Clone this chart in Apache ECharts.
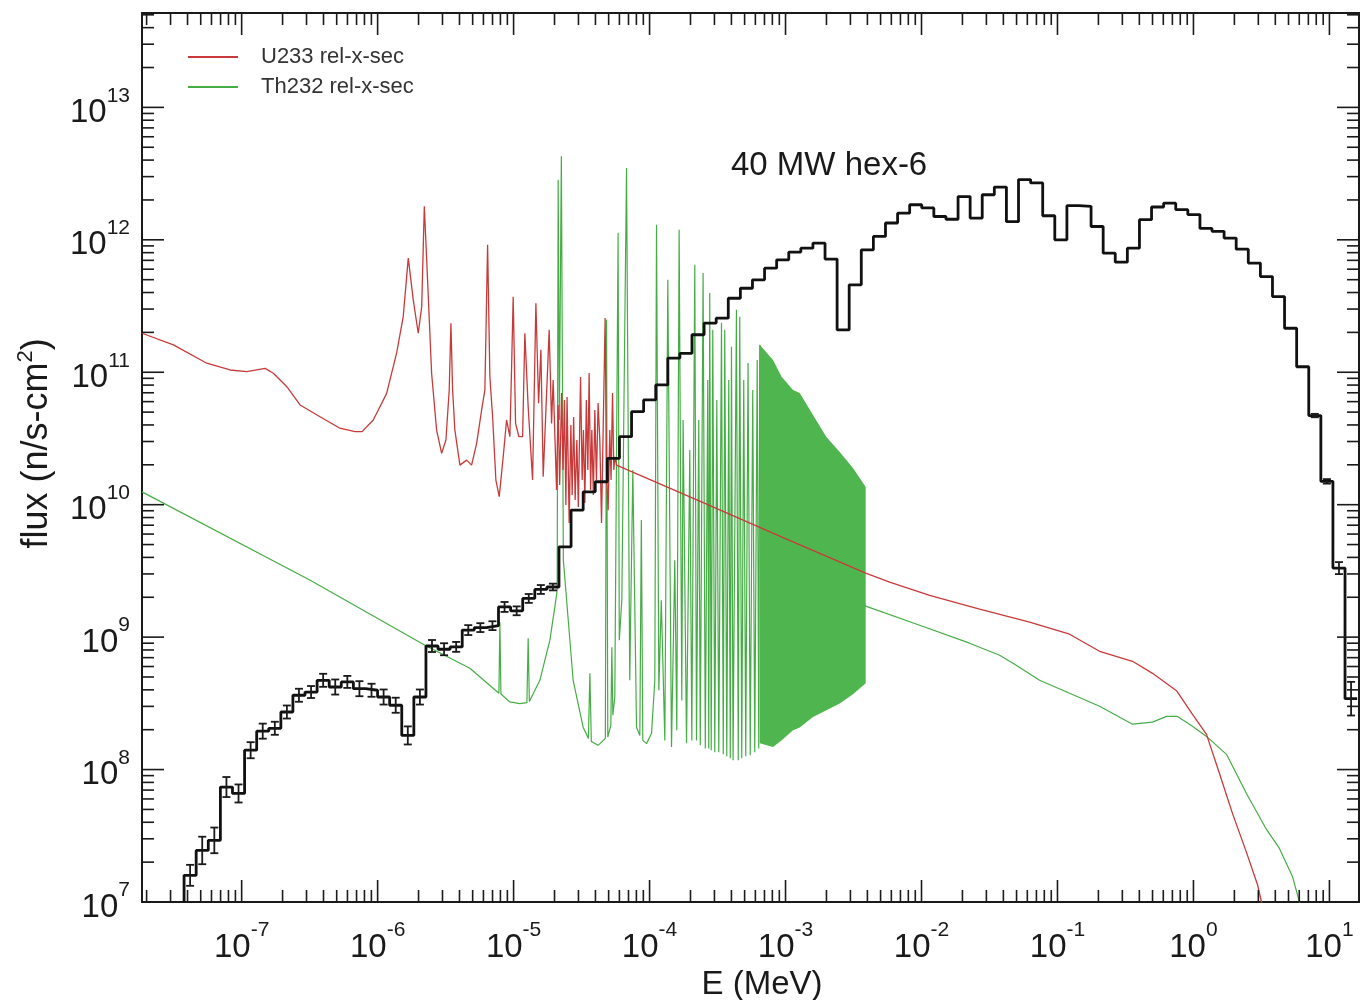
<!DOCTYPE html>
<html>
<head>
<meta charset="utf-8">
<title>40 MW hex-6</title>
<script src="https://cdn.jsdelivr.net/npm/echarts@6/dist/echarts.min.js"></script>
<style>
  html, body { margin: 0; padding: 0; background: #fff; }
  #chart { width: 1365px; height: 1000px; }
</style>
</head>
<body>
<div id="chart"></div>
<script>
// axis range: E (MeV) and flux (n/s-cm2)
const xMin = 1.85e-8, xMax = 16.5
const yMin = 1e7, yMax = 5.16e13

// flux histogram: bin edges (MeV), flux per bin, relative error bar (0 = none)
const binEdges = [
  3.772e-8, 4.630e-8, 5.683e-8, 6.976e-8, 8.563e-8, 1.051e-7, 1.290e-7, 1.583e-7, 1.943e-7, 2.382e-7,
  2.924e-7, 3.589e-7, 4.404e-7, 5.405e-7, 6.632e-7, 8.143e-7, 9.991e-7, 1.226e-6, 1.505e-6, 1.847e-6,
  2.267e-6, 2.782e-6, 3.413e-6, 4.190e-6, 5.141e-6, 6.310e-6, 7.745e-6, 9.504e-6, 1.167e-5, 1.432e-5,
  1.757e-5, 2.157e-5, 2.647e-5, 3.249e-5, 3.987e-5, 4.893e-5, 6.007e-5, 7.372e-5, 9.044e-5, 1.110e-4,
  1.362e-4, 1.672e-4, 2.051e-4, 2.518e-4, 3.090e-4, 3.792e-4, 4.654e-4, 5.712e-4, 7.010e-4, 8.603e-4,
  1.056e-3, 1.296e-3, 1.590e-3, 1.952e-3, 2.395e-3, 2.938e-3, 3.607e-3, 4.426e-3, 5.433e-3, 6.668e-3,
  8.182e-3, 1.004e-2, 1.232e-2, 1.513e-2, 1.857e-2, 2.279e-2, 2.796e-2, 3.432e-2, 4.212e-2, 5.169e-2,
  6.344e-2, 7.786e-2, 9.554e-2, 0.1173, 0.1439, 0.1766, 0.2168, 0.2660, 0.3265, 0.4007,
  0.4918, 0.6035, 0.7408, 0.9090, 1.116, 1.369, 1.680, 2.062, 2.531, 3.106,
  3.812, 4.677, 5.741, 7.046, 8.648, 10.61, 13.02, 15.99
]
const flux = [
  1.59e7, 2.45e7, 2.92e7, 7.38e7, 6.6e7, 1.40e8, 1.95e8, 2.05e8, 2.72e8, 3.64e8,
  3.85e8, 4.72e8, 4.2e8, 4.59e8, 4.08e8, 3.97e8, 3.53e8, 3.06e8, 1.81e8, 3.53e8,
  8.57e8, 8.1e8, 8.44e8, 1.13e9, 1.18e9, 1.22e9, 1.69e9, 1.58e9, 1.96e9, 2.29e9,
  2.39e9, 4.81e9, 9.1e9, 1.25e10, 1.49e10, 2.24e10, 3.26e10, 5.04e10, 6.18e10, 8.02e10,
  1.28e11, 1.39e11, 1.92e11, 2.35e11, 2.56e11, 3.62e11, 4.31e11, 4.99e11, 6.11e11, 7.06e11,
  8.08e11, 8.65e11, 9.44e11, 7.15e11, 2.09e11, 4.57e11, 8.4e11, 1.06e12, 1.34e12, 1.59e12,
  1.84e12, 1.74e12, 1.50e12, 1.43e12, 2.12e12, 1.46e12, 2.19e12, 2.50e12, 1.37e12, 2.85e12,
  2.69e12, 1.52e12, 1.0e12, 1.81e12, 1.79e12, 1.26e12, 7.93e11, 6.78e11, 8.65e11, 1.42e12,
  1.77e12, 1.89e12, 1.69e12, 1.55e12, 1.22e12, 1.16e12, 1.03e12, 8.5e11, 6.67e11, 5.28e11,
  3.73e11, 2.15e11, 1.10e11, 4.71e10, 1.50e10, 3.32e9, 3.43e8
]
const fluxErr = [
  0.2, 0.27, 0.25, 0.19, 0.17, 0.15, 0.14, 0.12, 0.12, 0.12,
  0.11, 0.12, 0.14, 0.11, 0.14, 0.12, 0.14, 0.14, 0.17, 0.14,
  0.11, 0.11, 0.09, 0.09, 0.08, 0.08, 0.09, 0.08, 0.08, 0.08,
  0.06, 0, 0, 0, 0, 0, 0, 0, 0, 0,
  0, 0, 0, 0, 0, 0, 0, 0, 0, 0,
  0, 0, 0, 0, 0, 0, 0, 0, 0, 0,
  0, 0, 0, 0, 0, 0, 0, 0, 0, 0,
  0, 0, 0, 0, 0, 0, 0, 0, 0, 0,
  0, 0, 0, 0, 0, 0, 0, 0, 0, 0,
  0, 0, 0, 0.03, 0.04, 0.11, 0.34
]

// U233 relative cross section
const u233E = [
  1.85e-8, 3.15e-8, 5.54e-8, 8.22e-8, 1.09e-7, 1.49e-7, 1.71e-7, 2.15e-7, 2.69e-7, 3.77e-7,
  5.28e-7, 6.82e-7, 7.68e-7, 9.29e-7, 1.165e-6, 1.38e-6, 1.543e-6, 1.68e-6, 1.828e-6, 1.99e-6,
  2.11e-6, 2.205e-6, 2.29e-6, 2.495e-6, 2.716e-6, 2.957e-6, 3.18e-6, 3.362e-6, 3.46e-6, 3.56e-6,
  3.70e-6, 4.03e-6, 4.51e-6, 4.91e-6, 5.35e-6, 5.82e-6, 6.15e-6, 6.44e-6, 6.69e-6, 7.01e-6,
  7.41e-6, 7.84e-6, 8.39e-6, 8.88e-6, 9.39e-6, 9.67e-6, 9.93e-6, 1.034e-5, 1.094e-5, 1.165e-5,
  1.21e-5, 1.28e-5, 1.379e-5, 1.459e-5, 1.527e-5, 1.588e-5, 1.651e-5, 1.827e-5, 1.902e-5, 1.954e-5,
  2.070e-5, 2.127e-5, 2.182e-5, 2.254e-5, 2.311e-5, 2.367e-5, 2.424e-5, 2.473e-5, 2.563e-5, 2.638e-5,
  2.696e-5, 2.765e-5, 2.836e-5, 2.919e-5, 2.994e-5, 3.108e-5, 3.193e-5, 3.264e-5, 3.343e-5, 3.428e-5,
  3.516e-5, 3.594e-5, 3.686e-5, 3.762e-5, 3.859e-5, 3.958e-5, 4.066e-5, 4.184e-5, 4.307e-5, 4.433e-5,
  4.571e-5, 4.713e-5, 4.834e-5, 4.958e-5, 5.102e-5, 5.208e-5, 5.341e-5, 5.459e-5, 5.553e-5, 5.715e-5,
  2.34e-4, 9.33e-4,
  3.886e-3, 5.83e-3, 1.148e-2, 2.675e-2, 6.24e-2, 0.1227, 0.204, 0.3565, 0.50, 0.7506,
  0.984, 1.247, 1.554, 1.936, 2.454, 2.956, 3.164, 3.32
]
const u233X = [
  1.97e11, 1.61e11, 1.17e11, 1.04e11, 1.01e11, 1.07e11, 9.82e10, 7.78e10, 5.66e10, 4.61e10,
  3.78e10, 3.56e10, 3.56e10, 4.36e10, 6.93e10, 1.40e11, 2.63e11, 7.28e11, 3.52e11, 1.97e11,
  3.13e11, 1.79e12, 7.48e11, 9.82e10, 3.66e10, 2.44e10, 3.08e10, 7.35e10, 2.34e11, 7.35e10,
  3.66e10, 1.99e10, 2.17e10, 1.99e10, 2.90e10, 5.19e10, 7.35e10, 9.16e11, 9.27e10, 4.61e10,
  1.535e10, 1.15e10, 2.30e10, 4.36e10, 3.26e10, 1.10e11, 3.72e11, 4.11e10, 3.26e10, 3.26e10,
  1.97e11, 5.5e10, 1.535e10, 3.32e11, 5.83e10, 1.476e11, 1.626e10, 2.09e11, 4.11e10, 8.75e10,
  1.290e10, 5.66e10, 1.407e10, 6.98e10, 1.826e10, 6.17e10, 9.93e9, 6.51e10, 7.26e9, 4.0e10,
  1.182e10, 4.59e10, 1.083e10, 3.08e10, 9.59e9, 9.22e10, 1.535e10, 3.66e10, 1.028e10, 6.17e10,
  1.826e10, 9.88e10, 1.29e10, 3.66e10, 1.182e10, 5.19e10, 1.535e10, 5.86e10, 3.08e10, 7.26e9,
  4.36e10, 2.57e11, 1.535e10, 9.1e9, 3.66e10, 1.535e10, 6.98e10, 1.826e10, 2.30e10, 1.992e10,
  1.064e10, 5.72e9,
  3.04e9, 2.60e9, 2.07e9, 1.626e9, 1.297e9, 1.052e9, 7.82e8, 6.57e8, 5.33e8, 3.94e8,
  2.61e8, 1.845e8, 9.35e7, 4.67e7, 2.37e7, 1.356e7, 1.0e7, 7.9e6
]

// Th232 relative cross section (resolved part)
const th232E = [
  1.85e-8, 3.194e-7, 2.23e-6, 4.77e-6, 7.80e-6, 7.93e-6, 8.07e-6, 9.39e-6, 1.112e-5, 1.253e-5,
  1.28e-5, 1.306e-5, 1.56e-5, 1.849e-5, 2.011e-5, 2.092e-5, 2.127e-5, 2.171e-5, 2.245e-5, 2.323e-5,
  2.742e-5, 3.246e-5, 3.55e-5, 3.64e-5, 3.73e-5, 4.184e-5, 4.73e-5, 4.826e-5, 4.93e-5, 5.19e-5,
  5.28e-5, 5.37e-5, 5.55e-5, 5.87e-5, 5.99e-5, 6.25e-5, 6.77e-5, 7.15e-5, 7.53e-5, 8.02e-5,
  8.48e-5, 8.70e-5, 8.92e-5, 9.5e-5,
  1.034e-4, 1.093e-4, 1.125e-4, 1.17e-4, 1.22e-4, 1.295e-4, 1.362e-4, 1.45e-4, 1.533e-4, 1.586e-4,
  1.65e-4, 1.726e-4, 1.765e-4, 1.87e-4, 1.977e-4, 2.045e-4, 2.151e-4, 2.214e-4, 2.30e-4, 2.36e-4,
  2.475e-4, 2.57e-4, 2.68e-4, 2.725e-4, 2.77e-4, 2.84e-4, 2.917e-4, 3.017e-4, 3.122e-4, 3.23e-4,
  3.38e-4, 3.484e-4, 3.573e-4, 3.697e-4, 3.824e-4, 3.922e-4, 4.003e-4, 4.112e-4, 4.355e-4, 4.49e-4,
  4.605e-4, 4.764e-4, 4.928e-4, 5.098e-4, 5.30e-4, 5.50e-4, 5.74e-4, 5.935e-4, 6.19e-4, 6.353e-4,
  6.46e-4,
  3.886e-3, 9.69e-3, 2.259e-2, 3.753e-2, 4.837e-2, 7.385e-2, 0.1227, 0.204, 0.3565, 0.50,
  0.6336, 0.7633, 0.984, 1.247, 1.75, 2.454, 3.443, 4.29, 5.346, 6.02, 6.33
]
const th232X = [
  1.25e10, 2.69e9, 8.69e8, 5.82e8, 3.77e8, 1.297e9, 3.72e8, 3.24e8, 3.15e8, 3.2e8,
  9.82e8, 3.26e8, 4.72e8, 9.48e8, 1.69e9, 2.26e9, 2.84e12, 4.36e10, 4.27e12, 3.81e9,
  4.72e8, 2.09e8, 1.72e8, 5.33e8, 1.63e8, 1.524e8, 1.72e8, 2.49e11, 1.76e8, 2.16e8,
  8.4e8, 2.57e8, 3.53e8, 1.13e12, 9.48e8, 1.90e9, 3.48e12, 4.72e8, 1.826e10, 2.09e8,
  1.81e8, 7.65e9, 1.66e8, 1.57e8,
  1.88e8, 4.72e8, 1.30e12, 3.97e8, 1.90e9, 1.66e8, 4.99e11, 1.48e8, 3.81e9, 1.98e8,
  1.19e12, 3.33e8, 4.36e10, 1.58e8, 2.59e10, 1.66e8, 6.47e11, 1.66e8, 4.36e10, 1.524e8,
  5.62e11, 1.445e8, 8.75e10, 1.445e8, 3.97e11, 1.397e8, 2.09e11, 1.349e8, 6.18e10, 1.349e8,
  2.36e11, 1.303e8, 2.09e11, 1.259e8, 8.75e10, 1.216e8, 1.56e11, 1.175e8, 2.96e11, 1.175e8,
  2.63e11, 1.216e8, 8.75e10, 1.259e8, 1.175e11, 1.28e8, 7.35e10, 1.349e8, 1.24e11, 1.445e8,
  1.61e11,
  1.713e9, 1.23e9, 9.0e8, 7.3e8, 6.24e8, 4.72e8, 3.77e8, 3.01e8, 2.2e8, 2.28e8,
  2.52e8, 2.52e8, 2.12e8, 1.78e8, 1.303e8, 6.6e7, 3.53e7, 2.54e7, 1.56e7, 1.0e7, 7.9e6
]

// Th232 unresolved resonance forest: upper and lower envelope
const th232BandE = [6.46e-4, 8.09e-4, 9.33e-4, 1.135e-3, 1.272e-3, 1.592e-3, 1.998e-3, 2.503e-3, 3.134e-3, 3.886e-3]
const th232BandHi = [1.61e11, 1.24e11, 9.27e10, 7.35e10, 6.98e10, 4.75e10, 3.24e10, 2.5e10, 1.89e10, 1.36e10]
const th232BandLo = [1.58e8, 1.48e8, 1.66e8, 1.98e8, 2.08e8, 2.49e8, 2.8e8, 3.16e8, 3.7e8, 4.49e8]

const fontFamily = '"Liberation Sans", Arial, Helvetica, sans-serif'
const ink = '#1a1a1a'

function powLabel(v) {
  const e = Math.log10(v)
  const n = Math.round(e)
  if (Math.abs(e - n) > 1e-6) return ''
  return '{b|10}{s|' + n + '}'
}
const powRich = {
  b: { fontSize: 33, lineHeight: 44, verticalAlign: 'bottom', color: ink, fontFamily },
  s: { fontSize: 21, lineHeight: 16, verticalAlign: 'top', color: ink, fontFamily }
}

// histogram as step line
const histData = [[binEdges[0], yMin]]
flux.forEach((v, i) => histData.push([binEdges[i], v]))
histData.push([binEdges[flux.length], flux[flux.length - 1]])

const errData = []
flux.forEach((v, i) => {
  if (fluxErr[i] > 0) {
    errData.push([Math.sqrt(binEdges[i] * binEdges[i + 1]), v / (1 + fluxErr[i]), v * (1 + fluxErr[i])])
  }
})

// frame ticks on all four sides (log minor ticks at 2..9)
const tickData = []
for (let n = -8; n <= 1; n++) {
  for (let m = 1; m <= 9; m++) {
    const v = m * Math.pow(10, n)
    if (v > xMin && v < xMax) tickData.push([v, yMin, m === 1 ? 1 : 0])
  }
}
for (let n = 7; n <= 13; n++) {
  for (let m = 1; m <= 9; m++) {
    const v = m * Math.pow(10, n)
    if (v > yMin && v < yMax) tickData.push([xMin, v, m === 1 ? 3 : 2])
  }
}

function renderTick(params, api) {
  const kind = api.value(2)
  const len = kind % 2 ? 22 : 12
  const style = { stroke: ink, lineWidth: 1.6 }
  if (kind < 2) {
    const b = api.coord([api.value(0), yMin])
    const t = api.coord([api.value(0), yMax])
    return {
      type: 'group',
      children: [
        { type: 'line', shape: { x1: b[0], y1: b[1], x2: b[0], y2: b[1] - len }, style },
        { type: 'line', shape: { x1: t[0], y1: t[1], x2: t[0], y2: t[1] + len }, style }
      ]
    }
  }
  const l = api.coord([xMin, api.value(1)])
  const r = api.coord([xMax, api.value(1)])
  return {
    type: 'group',
    children: [
      { type: 'line', shape: { x1: l[0], y1: l[1], x2: l[0] + len, y2: l[1] }, style },
      { type: 'line', shape: { x1: r[0], y1: r[1], x2: r[0] - len, y2: r[1] }, style }
    ]
  }
}

function renderErr(params, api) {
  const lo = api.coord([api.value(0), api.value(1)])
  const hi = api.coord([api.value(0), api.value(2)])
  const style = { stroke: ink, lineWidth: 1.8 }
  const w = 4
  return {
    type: 'group',
    children: [
      { type: 'line', shape: { x1: lo[0], y1: lo[1], x2: hi[0], y2: hi[1] }, style },
      { type: 'line', shape: { x1: lo[0] - w, y1: lo[1], x2: lo[0] + w, y2: lo[1] }, style },
      { type: 'line', shape: { x1: hi[0] - w, y1: hi[1], x2: hi[0] + w, y2: hi[1] }, style }
    ]
  }
}

function renderBand(params, api) {
  if (params.dataIndex !== 0) return
  const pts = []
  th232BandE.forEach((e, i) => pts.push(api.coord([e, th232BandHi[i]])))
  for (let i = th232BandE.length - 1; i >= 0; i--) pts.push(api.coord([th232BandE[i], th232BandLo[i]]))
  return { type: 'polygon', shape: { points: pts }, style: { fill: '#4fb64f' } }
}

const chart = echarts.init(document.getElementById('chart'))
chart.setOption({
  animation: false,
  backgroundColor: '#fff',
  textStyle: { fontFamily },
  title: {
    text: '40 MW hex-6',
    left: 726,
    top: 144,
    textStyle: { fontSize: 33, fontWeight: 'normal', color: ink, fontFamily }
  },
  legend: {
    data: ['U233 rel-x-sec', 'Th232 rel-x-sec'],
    orient: 'vertical',
    left: 183,
    top: 41,
    itemWidth: 50,
    itemHeight: 2,
    itemGap: 8,
    icon: 'rect',
    selectedMode: false,
    textStyle: { fontSize: 22, color: '#333', padding: [0, 0, 0, 18], fontFamily }
  },
  grid: {
    left: 142,
    right: 6,
    top: 13,
    bottom: 98,
    show: true,
    borderColor: ink,
    borderWidth: 2,
    containLabel: false,
    outerBoundsMode: 'none'
  },
  xAxis: {
    type: 'log',
    logBase: 10,
    min: xMin,
    max: xMax,
    splitNumber: 10,
    name: 'E (MeV)',
    nameLocation: 'middle',
    nameGap: 56,
    nameTextStyle: { fontSize: 33, color: ink, padding: [0, 0, 0, 23], fontFamily },
    axisLine: { show: false },
    axisTick: { show: false },
    splitLine: { show: false },
    axisLabel: { margin: 18, formatter: powLabel, rich: powRich }
  },
  yAxis: {
    type: 'log',
    logBase: 10,
    min: yMin,
    max: yMax,
    splitNumber: 10,
    name: 'flux (n/s-cm{s|2})',
    nameLocation: 'middle',
    nameGap: 78,
    nameRotate: 90,
    nameTextStyle: {
      fontSize: 36,
      lineHeight: 44,
      color: ink,
      padding: [0, 0, 0, 28],
      fontFamily,
      rich: { s: { fontSize: 22, lineHeight: 16, verticalAlign: 'top', color: ink, fontFamily } }
    },
    axisLine: { show: false },
    axisTick: { show: false },
    splitLine: { show: false },
    axisLabel: { margin: 12, formatter: powLabel, rich: powRich }
  },
  series: [
    {
      name: 'Th232 rel-x-sec',
      type: 'line',
      data: th232E.map((e, i) => [e, th232X[i]]),
      showSymbol: false,
      symbol: 'none',
      color: '#46ad46',
      lineStyle: { width: 1.2, color: '#46ad46' },
      z: 2
    },
    {
      name: 'Th232 forest',
      type: 'custom',
      data: th232BandE.map((e, i) => [e, th232BandHi[i], th232BandLo[i]]),
      encode: { x: 0, y: [1, 2] },
      renderItem: renderBand,
      silent: true,
      z: 3
    },
    {
      name: 'U233 rel-x-sec',
      type: 'line',
      data: u233E.map((e, i) => [e, u233X[i]]),
      showSymbol: false,
      symbol: 'none',
      color: '#c83a3a',
      lineStyle: { width: 1.3, color: '#c83a3a' },
      z: 4
    },
    {
      name: 'flux',
      type: 'line',
      data: histData,
      step: 'end',
      showSymbol: false,
      symbol: 'none',
      color: ink,
      lineStyle: { width: 2.8, color: '#111' },
      z: 5
    },
    {
      name: 'flux error',
      type: 'custom',
      data: errData,
      encode: { x: 0, y: [1, 2] },
      renderItem: renderErr,
      silent: true,
      z: 6
    },
    {
      name: 'ticks',
      type: 'custom',
      data: tickData,
      encode: { x: 0, y: 1 },
      renderItem: renderTick,
      silent: true,
      z: 7
    }
  ]
})
</script>
</body>
</html>
